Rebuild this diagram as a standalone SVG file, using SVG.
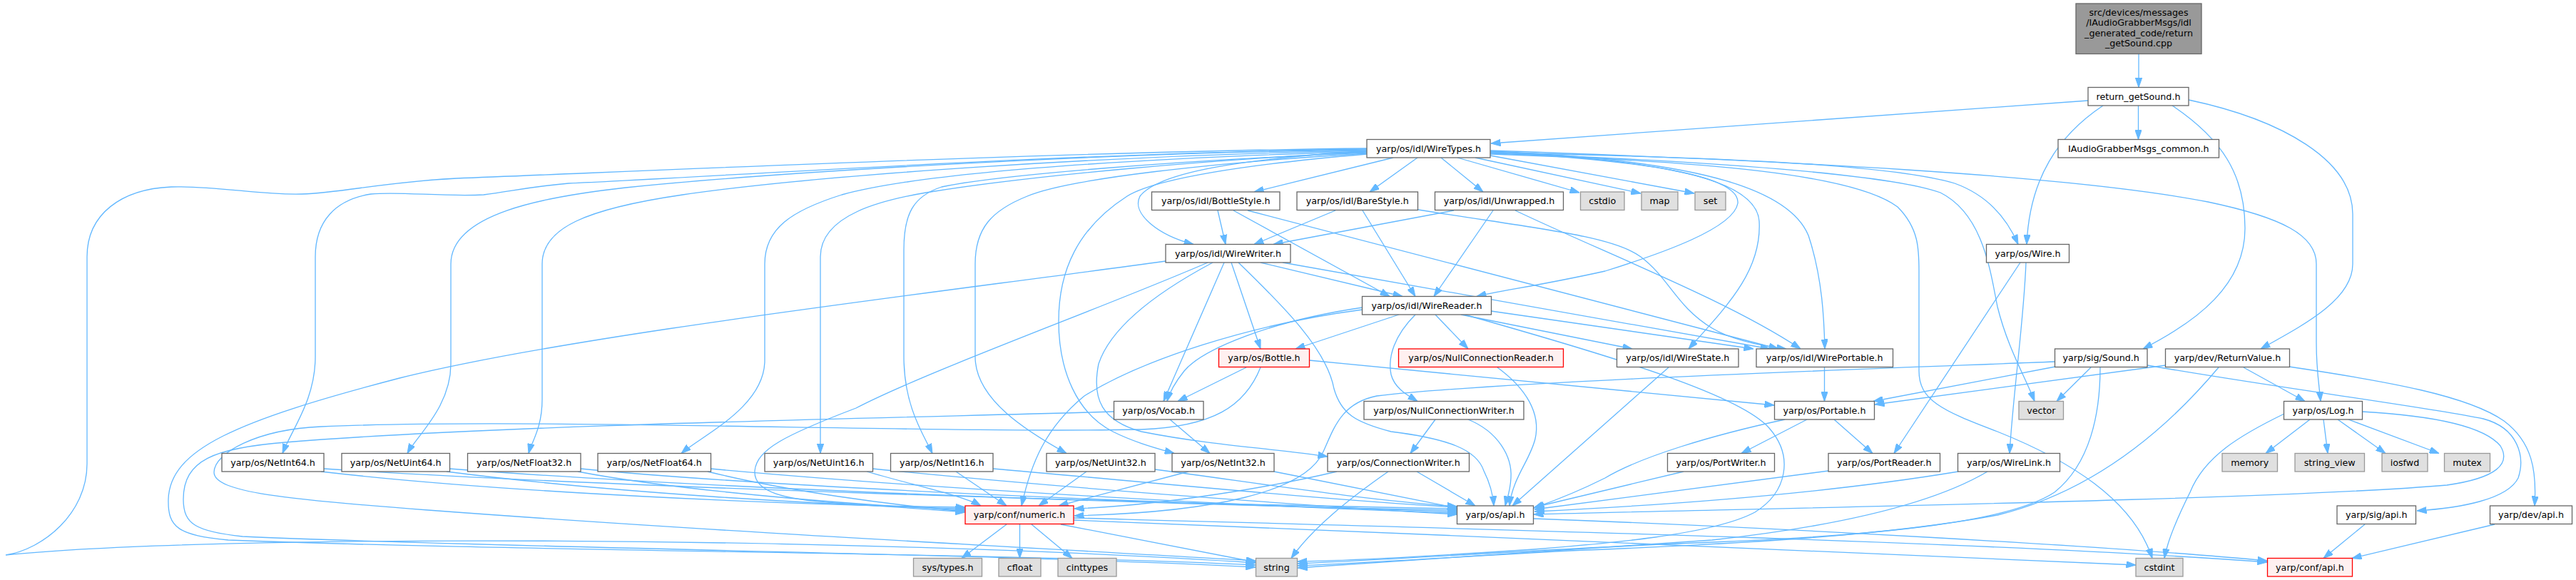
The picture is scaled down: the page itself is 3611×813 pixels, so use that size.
<svg xmlns="http://www.w3.org/2000/svg" width="3611" height="813" viewBox="0 0 3611 813">
<style>
.nd rect{fill:#ffffff;stroke:#666666;stroke-width:1.3}
.nd.sys rect{fill:#e0e0e0;stroke:#999999}
.nd.tr rect{fill:#fff0f0;stroke:#ff0000}
.nd.root rect{fill:#999999;stroke:#666666}
.nd text{font-family:"DejaVu Sans",Verdana,sans-serif;font-size:12.7px;text-anchor:middle;fill:#000000}
#edges path{fill:none;stroke:#63b8ff;stroke-width:1.3;marker-end:url(#ah)}
</style>
<defs>
<marker id="ah" viewBox="0 0 13.5 9.4" refX="13.5" refY="4.7" markerWidth="13.5" markerHeight="9.4" markerUnits="userSpaceOnUse" orient="auto"><path d="M0,0 L13.5,4.7 L0,9.4 Z" fill="#63b8ff" stroke="#63b8ff" stroke-width="1"/></marker>
</defs>
<rect x="0" y="0" width="3611" height="813" fill="#ffffff"/>
<g id="edges">
<path d="M2998,75.5 L2998,122.5"/>
<path d="M2927,141 L2090,201"/>
<path d="M2997.5,148 L2997.5,195.5"/>
<path d="M2948,148 C2885,190 2845,250 2841,342.5"/>
<path d="M3045,148 C3115,195 3147,245 3147,320 C3147,400 3080,450 3004,489"/>
<path d="M3068,140 C3200,168 3298,225 3298,300 L3298,370 C3298,420 3230,455 3169,489"/>
<path d="M1916,208 C1500,212 900,240 640,250 C540,255 480,270 423,272 C370,274 300,260 240,262 C170,265 122,300 122,360 L122,650 C122,720 60,770 8,778 C300,748 1200,752 1760,789"/>
<path d="M1916,209 C1500,214 1000,248 797,257 C740,262 718,268 678,273 C620,276 560,268 520,272 C470,280 442,310 442,360 L442,500 C442,560 410,600 396,635.5"/>
<path d="M1916,210 C1500,215 1050,245 877,263 C760,276 632,300 632,370 L632,510 C632,570 585,610 571,635.5"/>
<path d="M1916,211 C1550,218 1150,245 957,273 C820,293 760,320 760,370 L760,560 C760,600 745,620 741,635.5"/>
<path d="M1916,212 C1600,222 1300,240 1180,273 C1110,295 1072,320 1072,370 L1072,505 C1072,570 985,610 955,635.5"/>
<path d="M1916,213 C1700,224 1450,245 1298,270 C1240,280 1150,300 1150,360 L1150,635.5"/>
<path d="M1916,214 C1650,225 1400,245 1320,262 C1280,275 1267,300 1267,350 L1267,500 C1267,570 1295,610 1307,635.5"/>
<path d="M1916,215 C1700,228 1500,250 1440,275 C1390,295 1367,320 1367,370 L1367,500 C1367,560 1440,605 1495,635.5"/>
<path d="M1916,216 C1750,230 1620,250 1580,275 C1510,320 1484,380 1484,450 C1484,520 1510,580 1560,605 C1590,620 1620,628 1646,635.5"/>
<path d="M1916,212 C1750,222 1625,240 1598,275 C1585,300 1625,330 1673,342.5"/>
<path d="M1953,221 L1758,269"/>
<path d="M1987,221 L1920,269"/>
<path d="M2020,221 L2079,269"/>
<path d="M2043,221 L2214,270"/>
<path d="M2068,221 L2300,271"/>
<path d="M2089,218 L2375,271"/>
<path d="M2089,213 C2300,225 2440,245 2436,285 C2430,320 2330,355 2250,380 C2160,400 2100,408 2070,415.5"/>
<path d="M2089,213 C2350,225 2462,255 2466,310 C2470,380 2420,430 2367,489"/>
<path d="M2089,212 C2400,225 2510,270 2535,330 C2555,390 2557,450 2558,489"/>
<path d="M2089,214 C2400,220 2650,230 2740,257 C2790,275 2815,310 2829,342.5"/>
<path d="M2089,215 C2400,225 2650,245 2720,270 C2780,300 2790,380 2800,430 C2815,490 2840,530 2852,562.5"/>
<path d="M2089,216 C2400,226 2600,245 2660,290 C2690,320 2690,350 2690,380 L2690,520 C2690,560 2720,575 2800,605 C2900,645 2990,700 3017,782.5"/>
<path d="M2089,211 C2500,225 2900,245 3095,283 C3200,305 3247,330 3247,370 L3247,480 C3247,520 3251,540 3253,562.5"/>
<path d="M1707,295 L1718,342.5"/>
<path d="M1729,295 L1948,415.5"/>
<path d="M1749,295 L2493,489"/>
<path d="M1872,295 L1758,342.5"/>
<path d="M1910,295 L1984,415.5"/>
<path d="M1988,294 C2150,320 2260,330 2300,360 C2340,390 2350,430 2400,460 C2430,478 2470,485 2504,489"/>
<path d="M2038,295 L1785,342.5"/>
<path d="M2093,295 L2010,415.5"/>
<path d="M2124,295 C2250,355 2420,420 2524,489"/>
<path d="M1634,366 C1300,412 800,470 560,530 C330,590 238,630 236,700 C235,740 250,750 320,757 C700,772 1400,775 1760,792"/>
<path d="M1693,368 C1550,430 1300,520 1200,572 C1100,610 1061,630 1058,660 C1056,690 1100,700 1170,705 C1250,710 1300,714 1353,718"/>
<path d="M1700,368 C1640,400 1560,450 1540,510 C1530,560 1545,590 1600,605 C1700,625 1800,630 1861,640"/>
<path d="M1716,368 L1631,562.5"/>
<path d="M1726,368 L1767,489"/>
<path d="M1736,368 C1800,430 1860,490 1870,545 C1880,580 1900,592 1950,605 C2030,615 2070,630 2080,660 C2090,680 2093,695 2094,709"/>
<path d="M1767,368 L1966,415.5"/>
<path d="M1798,368 L2481,489"/>
<path d="M1910,431 C1780,450 1685,490 1660,520 C1648,535 1640,548 1636,562.5"/>
<path d="M1910,434 C1750,455 1600,505 1520,555 C1465,600 1445,650 1432,709"/>
<path d="M1961,441 L1816,489"/>
<path d="M1984,441 C1955,470 1945,500 1950,525 C1955,545 1975,555 1987,562.5"/>
<path d="M2012,441 L2058,489"/>
<path d="M2048,441 L2288,489"/>
<path d="M2053,441 C2280,505 2440,555 2480,600 C2515,640 2505,690 2460,718 C2400,750 2250,762 2150,770 C2000,780 1900,786 1819,787"/>
<path d="M2090,436 L2458,489"/>
<path d="M1747,515 L1651,562.5"/>
<path d="M1767,515 C1745,570 1700,598 1600,602 C1300,608 750,585 450,598 C360,602 300,635 300,662 C300,690 400,700 600,715 C1000,745 1450,768 1760,786"/>
<path d="M1835,505 L2487,568"/>
<path d="M1561,577 C1300,585 700,595 400,620 C300,628 257,645 257,700 C257,735 275,745 340,752 C700,768 1400,776 1760,795"/>
<path d="M1640,588 L1696,635.5"/>
<path d="M2099,515 C2140,545 2160,580 2152,615 C2145,645 2120,670 2116,709"/>
<path d="M2058,588 C2100,605 2120,640 2118,670 C2117,690 2112,700 2110,709"/>
<path d="M2012,588 L1977,635.5"/>
<path d="M2339,515 L2120,709"/>
<path d="M2557.5,515 L2557.5,562.5"/>
<path d="M2502,588 C2400,610 2300,640 2250,670 C2200,695 2170,705 2150,712"/>
<path d="M2533,588 L2441,635.5"/>
<path d="M2571,588 L2625,635.5"/>
<path d="M2881,514 L2626,562.5"/>
<path d="M2931,515 L2883,562.5"/>
<path d="M2944,515 C2944,580 2930,650 2880,690 C2820,730 2650,750 2400,760 C2150,770 1950,785 1819,790"/>
<path d="M2880,507 C2600,518 2100,535 1930,555 C1880,565 1870,600 1855,633 C1830,690 1700,718 1506,723"/>
<path d="M3010,512 C3200,545 3400,570 3481,587 C3530,600 3540,640 3530,670 C3515,700 3450,712 3388,716"/>
<path d="M3036,512 L2628,567"/>
<path d="M3145,515 L3231,562.5"/>
<path d="M3209,514 C3350,535 3460,555 3510,590 C3550,620 3556,660 3553,709"/>
<path d="M3110,515 C3030,610 2930,690 2800,722 C2650,750 2450,762 2200,772 C2050,780 1900,790 1819,793"/>
<path d="M3238,588 L3176,635.5"/>
<path d="M3257,588 L3263,635.5"/>
<path d="M3277,588 L3344,635.5"/>
<path d="M3292,588 L3419,635.5"/>
<path d="M3202,580 C3140,610 3090,640 3070,690 C3050,730 3038,760 3034,782.5"/>
<path d="M3311,577 C3400,582 3480,595 3505,625 C3520,650 3500,670 3430,680 C3200,700 2500,712 2150,721"/>
<path d="M2832,368 L2655,635.5"/>
<path d="M2840,368 C2837,450 2822,550 2817,635.5"/>
<path d="M2360,661 L2151,711"/>
<path d="M2563,660 L2151,714"/>
<path d="M2745,661 C2600,685 2400,705 2151,717"/>
<path d="M2786,661 C2720,700 2600,735 2400,757 C2150,775 1950,788 1819,796"/>
<path d="M1874,661 C1750,690 1600,710 1506,713"/>
<path d="M1986,661 L2068,709"/>
<path d="M1946,661 C1890,700 1840,740 1810,782.5"/>
<path d="M1411,735 L1348,782.5"/>
<path d="M1429.5,735 L1429.5,782.5"/>
<path d="M1446,735 L1503,782.5"/>
<path d="M1487,735 L1760,788"/>
<path d="M1505,729 C2000,750 2600,772 2994,792"/>
<path d="M1505,726 C2100,742 2800,760 3178,788"/>
<path d="M2150,727 C2500,740 2950,765 3178,786"/>
<path d="M3315,735 L3257,782.5"/>
<path d="M3497,735 L3297,782.5"/>
<path d="M450,661 C700,690 1100,708 1353,711"/>
<path d="M454,657 C900,685 1600,705 2042.5,713"/>
<path d="M626,661 C850,690 1150,708 1353,713"/>
<path d="M630,657 C1000,685 1600,707 2042.5,715"/>
<path d="M810,661 C950,688 1200,708 1353,715"/>
<path d="M814,657 C1100,685 1700,708 2042.5,717"/>
<path d="M992,661 C1100,688 1250,708 1353,717"/>
<path d="M996,657 C1300,685 1750,710 2042.5,719"/>
<path d="M1215,661 C1280,680 1350,695 1375,709"/>
<path d="M1223,657 C1500,685 1850,710 2042.5,721"/>
<path d="M1340,661 L1411,709"/>
<path d="M1392,657 C1600,675 1850,700 2042.5,711"/>
<path d="M1523,661 L1456,709"/>
<path d="M1619,658 C1750,675 1900,700 2042.5,710"/>
<path d="M1666,661 L1484,709"/>
<path d="M1786,661 L2042.5,712"/>
</g>
<g id="root" class="nd root"><rect x="2910" y="5" width="176" height="70.5"/><text x="2998" y="21.5">src/devices/messages</text><text x="2998" y="36">/IAudioGrabberMsgs/idl</text><text x="2998" y="50.5">_generated_code/return</text><text x="2998" y="65">_getSound.cpp</text></g>
<g id="n_return_getSound" class="nd"><rect x="2927" y="122.5" width="141" height="25.5"/><text x="2997.5" y="139.7">return_getSound.h</text></g>
<g id="n_WireTypes" class="nd"><rect x="1916" y="195.5" width="173" height="25.5"/><text x="2002.5" y="212.7">yarp/os/idl/WireTypes.h</text></g>
<g id="n_IAudioGrabberMsgs_common" class="nd"><rect x="2885" y="195.5" width="225.5" height="25.5"/><text x="2997.75" y="212.7">IAudioGrabberMsgs_common.h</text></g>
<g id="n_BottleStyle" class="nd"><rect x="1614.5" y="269" width="179.5" height="25.5"/><text x="1704.25" y="286.2">yarp/os/idl/BottleStyle.h</text></g>
<g id="n_BareStyle" class="nd"><rect x="1818" y="269" width="169.5" height="25.5"/><text x="1902.75" y="286.2">yarp/os/idl/BareStyle.h</text></g>
<g id="n_Unwrapped" class="nd"><rect x="2011.5" y="269" width="180" height="25.5"/><text x="2101.5" y="286.2">yarp/os/idl/Unwrapped.h</text></g>
<g id="n_cstdio" class="nd sys"><rect x="2215.5" y="269" width="61.5" height="25.5"/><text x="2246.25" y="286.2">cstdio</text></g>
<g id="n_map" class="nd sys"><rect x="2301" y="269" width="51" height="25.5"/><text x="2326.5" y="286.2">map</text></g>
<g id="n_set" class="nd sys"><rect x="2376" y="269" width="43" height="25.5"/><text x="2397.5" y="286.2">set</text></g>
<g id="n_WireWriter" class="nd"><rect x="1634" y="342.5" width="175" height="25.5"/><text x="1721.5" y="359.7">yarp/os/idl/WireWriter.h</text></g>
<g id="n_Wire" class="nd"><rect x="2784.5" y="342.5" width="116" height="25.5"/><text x="2842.5" y="359.7">yarp/os/Wire.h</text></g>
<g id="n_WireReader" class="nd"><rect x="1909.5" y="415.5" width="181" height="25.5"/><text x="2000" y="432.7">yarp/os/idl/WireReader.h</text></g>
<g id="n_Bottle" class="nd tr"><rect x="1708.5" y="489" width="127" height="25.5"/><text x="1772" y="506.2">yarp/os/Bottle.h</text></g>
<g id="n_NullConnectionReader" class="nd tr"><rect x="1960.5" y="489" width="231" height="25.5"/><text x="2076" y="506.2">yarp/os/NullConnectionReader.h</text></g>
<g id="n_WireState" class="nd"><rect x="2266.5" y="489" width="170.5" height="25.5"/><text x="2351.75" y="506.2">yarp/os/idl/WireState.h</text></g>
<g id="n_WirePortable" class="nd"><rect x="2462" y="489" width="191.5" height="25.5"/><text x="2557.75" y="506.2">yarp/os/idl/WirePortable.h</text></g>
<g id="n_Sound" class="nd"><rect x="2880.5" y="489" width="129.5" height="25.5"/><text x="2945.25" y="506.2">yarp/sig/Sound.h</text></g>
<g id="n_ReturnValue" class="nd"><rect x="3035.5" y="489" width="174" height="25.5"/><text x="3122.5" y="506.2">yarp/dev/ReturnValue.h</text></g>
<g id="n_Vocab" class="nd"><rect x="1561.5" y="562.5" width="125.5" height="25.5"/><text x="1624.25" y="579.7">yarp/os/Vocab.h</text></g>
<g id="n_NullConnectionWriter" class="nd"><rect x="1912" y="562.5" width="224" height="25.5"/><text x="2024" y="579.7">yarp/os/NullConnectionWriter.h</text></g>
<g id="n_Portable" class="nd"><rect x="2487.5" y="562.5" width="140" height="25.5"/><text x="2557.5" y="579.7">yarp/os/Portable.h</text></g>
<g id="n_vector" class="nd sys"><rect x="2830" y="562.5" width="62.5" height="25.5"/><text x="2861.25" y="579.7">vector</text></g>
<g id="n_Log" class="nd"><rect x="3201.5" y="562.5" width="110" height="25.5"/><text x="3256.5" y="579.7">yarp/os/Log.h</text></g>
<g id="n_NetInt64" class="nd"><rect x="311" y="635.5" width="143" height="25.5"/><text x="382.5" y="652.7">yarp/os/NetInt64.h</text></g>
<g id="n_NetUint64" class="nd"><rect x="479" y="635.5" width="151.5" height="25.5"/><text x="554.75" y="652.7">yarp/os/NetUint64.h</text></g>
<g id="n_NetFloat32" class="nd"><rect x="655.5" y="635.5" width="158.5" height="25.5"/><text x="734.75" y="652.7">yarp/os/NetFloat32.h</text></g>
<g id="n_NetFloat64" class="nd"><rect x="838" y="635.5" width="158.5" height="25.5"/><text x="917.25" y="652.7">yarp/os/NetFloat64.h</text></g>
<g id="n_NetUint16" class="nd"><rect x="1072" y="635.5" width="151.5" height="25.5"/><text x="1147.75" y="652.7">yarp/os/NetUint16.h</text></g>
<g id="n_NetInt16" class="nd"><rect x="1248.5" y="635.5" width="143.5" height="25.5"/><text x="1320.25" y="652.7">yarp/os/NetInt16.h</text></g>
<g id="n_NetUint32" class="nd"><rect x="1467" y="635.5" width="152" height="25.5"/><text x="1543" y="652.7">yarp/os/NetUint32.h</text></g>
<g id="n_NetInt32" class="nd"><rect x="1643" y="635.5" width="143" height="25.5"/><text x="1714.5" y="652.7">yarp/os/NetInt32.h</text></g>
<g id="n_ConnectionWriter" class="nd"><rect x="1861" y="635.5" width="198.5" height="25.5"/><text x="1960.25" y="652.7">yarp/os/ConnectionWriter.h</text></g>
<g id="n_PortWriter" class="nd"><rect x="2337.5" y="635.5" width="150" height="25.5"/><text x="2412.5" y="652.7">yarp/os/PortWriter.h</text></g>
<g id="n_PortReader" class="nd"><rect x="2563" y="635.5" width="156.5" height="25.5"/><text x="2641.25" y="652.7">yarp/os/PortReader.h</text></g>
<g id="n_WireLink" class="nd"><rect x="2744.5" y="635.5" width="143" height="25.5"/><text x="2816" y="652.7">yarp/os/WireLink.h</text></g>
<g id="n_memory" class="nd sys"><rect x="3115" y="635.5" width="77.5" height="25.5"/><text x="3153.75" y="652.7">memory</text></g>
<g id="n_string_view" class="nd sys"><rect x="3217" y="635.5" width="97.5" height="25.5"/><text x="3265.75" y="652.7">string_view</text></g>
<g id="n_iosfwd" class="nd sys"><rect x="3339" y="635.5" width="64" height="25.5"/><text x="3371" y="652.7">iosfwd</text></g>
<g id="n_mutex" class="nd sys"><rect x="3426.5" y="635.5" width="64" height="25.5"/><text x="3458.5" y="652.7">mutex</text></g>
<g id="n_numeric" class="nd tr"><rect x="1353" y="709" width="152" height="25.5"/><text x="1429" y="726.2">yarp/conf/numeric.h</text></g>
<g id="n_os_api" class="nd"><rect x="2042.5" y="709" width="107" height="25.5"/><text x="2096" y="726.2">yarp/os/api.h</text></g>
<g id="n_sig_api" class="nd"><rect x="3276" y="709" width="110.5" height="25.5"/><text x="3331.25" y="726.2">yarp/sig/api.h</text></g>
<g id="n_dev_api" class="nd"><rect x="3490.5" y="709" width="115" height="25.5"/><text x="3548" y="726.2">yarp/dev/api.h</text></g>
<g id="n_sys_types" class="nd sys"><rect x="1280.5" y="782.5" width="96" height="25.5"/><text x="1328.5" y="799.7">sys/types.h</text></g>
<g id="n_cfloat" class="nd sys"><rect x="1400" y="782.5" width="59" height="25.5"/><text x="1429.5" y="799.7">cfloat</text></g>
<g id="n_cinttypes" class="nd sys"><rect x="1483" y="782.5" width="82" height="25.5"/><text x="1524" y="799.7">cinttypes</text></g>
<g id="n_string" class="nd sys"><rect x="1760.5" y="782.5" width="58" height="25.5"/><text x="1789.5" y="799.7">string</text></g>
<g id="n_cstdint" class="nd sys"><rect x="2994" y="782.5" width="66" height="25.5"/><text x="3027" y="799.7">cstdint</text></g>
<g id="n_conf_api" class="nd tr"><rect x="3178.5" y="782.5" width="119" height="25.5"/><text x="3238" y="799.7">yarp/conf/api.h</text></g>
</svg>
